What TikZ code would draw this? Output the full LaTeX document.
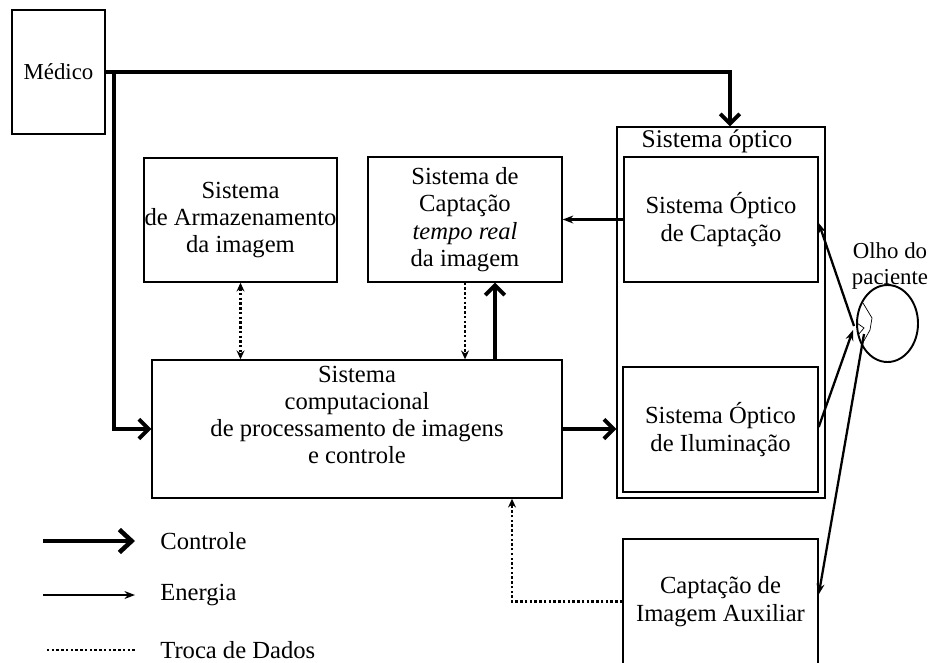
\documentclass[tikz,border=0pt]{standalone}
\usepackage{fontspec}
\setmainfont{Liberation Serif}
\usetikzlibrary{arrows.meta}

\begin{document}
\begin{tikzpicture}[
    box/.style={draw, line width=0.8pt, inner sep=0pt, align=center,
      font=\fontsize{14}{15.5}\selectfont},
    txt/.style={inner sep=0pt, align=center, font=\fontsize{14}{15.5}\selectfont},
    lgtxt/.style={inner sep=0pt, anchor=west, font=\fontsize{14}{16}\selectfont},
    ctrl/.style={line width=2.2pt, -{Straight Barb[length=5.5pt,width=11pt]}},
    energy/.style={line width=1.3pt, -{Stealth[length=6pt,width=4.5pt]}},
    data/.style={line width=1.4pt, dash pattern=on 1.4pt off 1.3pt,
      >={Stealth[length=5pt,width=4.5pt]}}
  ]
  \useasboundingbox (0,0) rectangle (18.62,-13.24);

  \node[box, minimum width=1.86cm, minimum height=2.48cm,
    font=\fontsize{13}{14}\selectfont] (medico) at (1.17,-1.44) {Médico};
  \node[box, minimum width=3.86cm, minimum height=2.48cm] (armaz) at (4.81,-4.40)
    {Sistema\\de Armazenamento\\da imagem};
  \node[box, minimum width=3.88cm, minimum height=2.50cm] (captrt) at (9.30,-4.39)
    {Sistema de\\Captação\\\textit{tempo real}\\da imagem};
  \node[box, minimum width=8.20cm, minimum height=2.76cm] (comp) at (7.14,-8.58) {};
  \node[txt] (comptxt) at ([yshift=0.28cm]comp.center)
    {Sistema\\computacional\\de processamento de imagens\\e controle};

  \node[box, minimum width=4.16cm, minimum height=7.42cm] (optico) at (14.42,-6.25) {};
  \node[txt, font=\fontsize{14.5}{16}\selectfont] (opticolbl) at (14.34,-2.82) {Sistema óptico};
  \node[box, minimum width=3.88cm, minimum height=2.50cm] (optcapt) at (14.42,-4.39)
    {Sistema Óptico\\de Captação};
  \node[box, minimum width=3.90cm, minimum height=2.50cm] (optilum) at (14.41,-8.59)
    {Sistema Óptico\\de Iluminação};
  \node[box, minimum width=3.90cm, minimum height=2.50cm] (aux) at (14.41,-12.03)
    {Captação de\\Imagem Auxiliar};

  \node[txt, font=\fontsize{13}{15}\selectfont] (olho) at (17.80,-5.32) {Olho do\\paciente};
  \draw[line width=1.1pt] (17.75,-6.47) ellipse (0.61 and 0.77);
  \draw[line width=0.4pt] (17.26,-6.06)--(17.44,-6.36)--(17.40,-6.60)--(17.22,-6.92);
  \draw[line width=0.4pt] (17.14,-6.46)--(17.28,-6.56)--(17.16,-6.70);

  \coordinate (split) at ([xshift=0.16cm]medico.east);
  \coordinate (eyein) at (17.06,-6.60);
  \coordinate (eyeout) at (17.08,-6.52);
  \coordinate (eyeaux) at (17.28,-6.68);

  \draw[ctrl] (medico.east) -| ([xshift=0.18cm]optico.north);
  \draw[ctrl] (split) |- (comp.west);
  \draw[ctrl] ([xshift=0.6cm]captrt.south |- comp.north) -- ([xshift=0.6cm]captrt.south);
  \draw[ctrl] (comp.east) -- (comp.east -| optico.west);

  \draw[data,<->] (armaz.south) -- (armaz.south |- comp.north);
  \draw[data,->] (captrt.south) -- (captrt.south |- comp.north);
  \draw[data,->] (aux.west) -| ([xshift=3.1cm]comp.south);

  \draw[energy] (optcapt.west) -- (captrt.east);
  \draw[energy] ([yshift=0.05cm]optilum.east) -- (eyein);
  \draw[energy] (eyeout) -- ([yshift=-0.07cm]optcapt.east);
  \draw[energy] (eyeaux) -- ([yshift=0.14cm]aux.east);

  \node[lgtxt] (lgctrl) at (3.20,-10.82) {Controle};
  \node[lgtxt] (lgenergy) at (3.20,-11.90) {Energia};
  \node[lgtxt] (lgdata) at (3.20,-13.00) {Troca de Dados};
  \draw[line width=2.6pt, -{Straight Barb[length=7pt,width=13pt]}]
    ([xshift=-2.34cm]lgctrl.west) -- ([xshift=-0.5cm]lgctrl.west);
  \draw[energy] ([xshift=-2.34cm]lgenergy.west) -- ([xshift=-0.5cm]lgenergy.west);
  \draw[data] ([xshift=-2.26cm]lgdata.west) -- ([xshift=-0.46cm]lgdata.west);
\end{tikzpicture}
\end{document}
